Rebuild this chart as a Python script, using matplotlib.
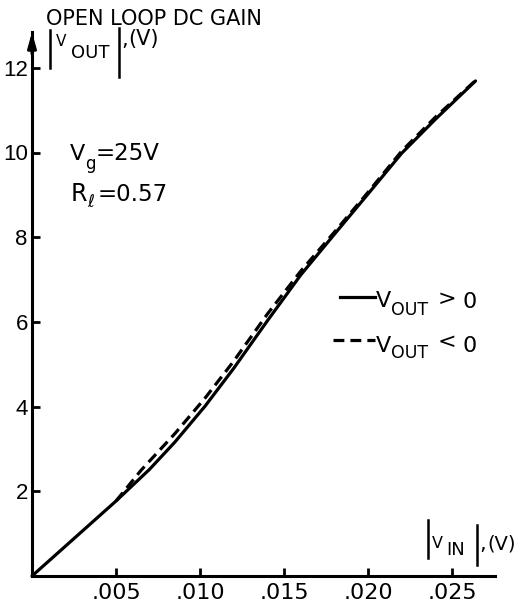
import matplotlib
matplotlib.use("Agg")
import matplotlib.pyplot as plt
from matplotlib.lines import Line2D

# ---- data ----
vin_pos = [0.0, 0.005, 0.0070, 0.0085, 0.0103, 0.012, 0.014, 0.016, 0.018, 0.020, 0.022, 0.024, 0.0264]
vout_pos = [0.0, 1.77, 2.52, 3.16, 4.01, 4.90, 6.02, 7.11, 8.07, 9.02, 9.98, 10.78, 11.69]

vin_neg = [0.005, 0.0065, 0.0085, 0.0103, 0.012, 0.014, 0.016, 0.018, 0.020, 0.022, 0.024, 0.0264]
vout_neg = [1.77, 2.50, 3.36, 4.20, 5.07, 6.18, 7.20, 8.12, 9.06, 10.03, 10.83, 11.70]

xticks = [0.005, 0.010, 0.015, 0.020, 0.025]
xticklabels = [".005", ".010", ".015", ".020", ".025"]
yticks = [2, 4, 6, 8, 10, 12]
yticklabels = ["2", "4", "6", "8", "10", "12"]

W, H = 524, 610
plt.rcParams['font.family'] = ['DejaVu Sans']
fig = plt.figure(figsize=(W / 100, H / 100), dpi=100)

ax = fig.add_axes([32 / W, (H - 576) / H, (495 - 32) / W, (576 - 32) / H])
ax.set_xlim(0, 463 / 16800)
ax.set_ylim(0, 544 / 42.35)

LW = 2.3
ax.plot(vin_pos, vout_pos, color='black', lw=LW, solid_capstyle='round', clip_on=False)
ax.plot(vin_neg, vout_neg, color='black', lw=LW, dashes=(3.4, 1.9), clip_on=False)

for s in ['top', 'right']:
    ax.spines[s].set_visible(False)
for s in ['left', 'bottom']:
    ax.spines[s].set_linewidth(2.2)

ax.set_xticks(xticks)
ax.set_xticklabels(xticklabels)
ax.set_yticks(yticks)
ax.set_yticklabels(yticklabels, fontfamily='Liberation Sans')
ax.tick_params(direction='in', length=6, width=2, labelsize=16, pad=5)
ax.tick_params(axis='y', pad=3)

# arrow at top of y axis
ax.annotate('', xy=(0, 1.0), xytext=(0, 0.96), xycoords='axes fraction',
            arrowprops=dict(arrowstyle='-|>,head_length=0.9,head_width=0.25',
                            color='black', lw=2.2, shrinkA=0, shrinkB=0),
            annotation_clip=False)


def T(x, y, s, size, **kw):
    fig.text(x / W, 1 - y / H, s, fontsize=size, ha='left', va='baseline', **kw)


def bar(x, y0, y1, lw=1.8):
    fig.add_artist(Line2D([x / W, x / W], [1 - y0 / H, 1 - y1 / H], lw=lw, color='black'))


def hline(x0, x1, y, **kw):
    fig.add_artist(Line2D([x0 / W, x1 / W], [1 - y / H, 1 - y / H], color='black', **kw))


# title and y label
T(46, 25, "OPEN LOOP DC GAIN", 15)
bar(50, 30, 68)
T(56, 46, "V", 11)
T(71, 58, "OUT", 13)
bar(119, 28, 77)
T(121, 46, ",", 15)
T(128, 45, "(V)", 15)

# x label
bar(428, 520, 558)
T(432, 548, "V", 11.5)
T(446, 555, "IN", 13)
bar(477, 525, 565)
T(479, 550, ",", 15)
T(487, 550, "(V)", 14)

# parameters
T(70, 160, "V", 16)
T(85, 169, "g", 12)
T(96, 160, "=25V", 16.5)
T(71, 201, "R", 17)
T(87, 207, "\u2113", 12)
T(98, 201, "=0.57", 16.5)

# legend
hline(340, 375, 297, lw=LW)
T(376, 307, "V", 16)
T(391, 315, "OUT", 12.5)
T(438, 305, ">", 16)
T(463, 308, "0", 16)

hline(333, 375, 340, lw=LW, dashes=(3.4, 1.9))
T(376, 352, "V", 16)
T(391, 358, "OUT", 12.5)
T(438, 348, "<", 16)
T(463, 352, "0", 16)

fig.savefig("out.png", dpi=100)
